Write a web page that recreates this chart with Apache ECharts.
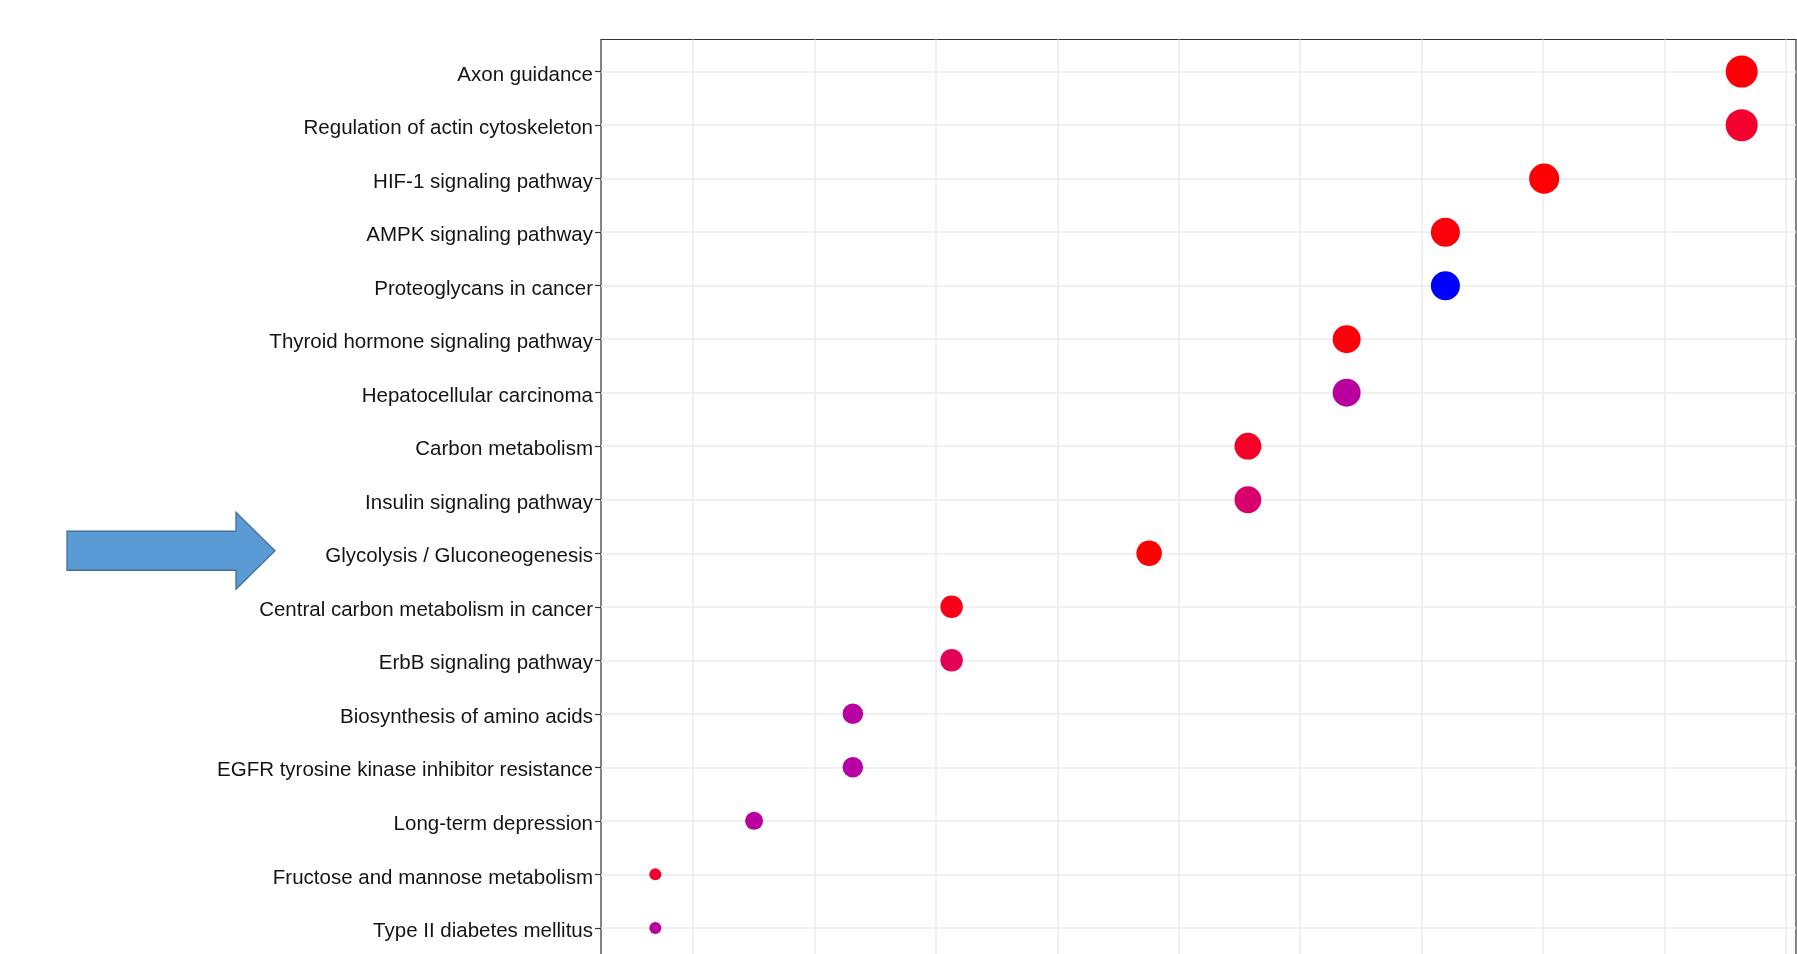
<!DOCTYPE html>
<html>
<head>
<meta charset="utf-8">
<title>KEGG enrichment dot plot</title>
<script src="https://cdn.jsdelivr.net/npm/echarts@6/dist/echarts.min.js"></script>
<style>
  html, body { margin: 0; padding: 0; background: #ffffff; }
  #chart { width: 1797px; height: 954px; }
</style>
</head>
<body>
<div id="chart"></div>
<script>
// Enriched KEGG pathways, listed top to bottom
const pathways = [
  'Axon guidance',
  'Regulation of actin cytoskeleton',
  'HIF-1 signaling pathway',
  'AMPK signaling pathway',
  'Proteoglycans in cancer',
  'Thyroid hormone signaling pathway',
  'Hepatocellular carcinoma',
  'Carbon metabolism',
  'Insulin signaling pathway',
  'Glycolysis / Gluconeogenesis',
  'Central carbon metabolism in cancer',
  'ErbB signaling pathway',
  'Biosynthesis of amino acids',
  'EGFR tyrosine kinase inhibitor resistance',
  'Long-term depression',
  'Fructose and mannose metabolism',
  'Type II diabetes mellitus'
];

// Genes hit in each pathway
const geneCount = [18, 18, 16, 15, 15, 14, 14, 13, 13, 12, 10, 10, 9, 9, 8, 7, 7];

// Size of the input gene list (GeneRatio = count / total)
const geneTotal = 123;

// Adjusted p-values (colour)
const pAdjust = [0.0021, 0.0069, 0.0017, 0.0026, 0.0486, 0.0027, 0.0296, 0.0059,
                 0.0192, 0.0012, 0.0045, 0.0145, 0.0298, 0.0306, 0.0301, 0.0074, 0.0294];

// Vertical grid positions on the GeneRatio axis
const ratioTicks = [0.06, 0.07, 0.08, 0.09, 0.10, 0.11, 0.12, 0.13, 0.14, 0.15];

const rowIndex = pathways.map((_, i) => i);
const points = pathways.map((name, i) => [geneCount[i] / geneTotal, i, pAdjust[i], geneCount[i], name]);

const ratios = points.map(p => p[0]);
const rMin = Math.min(...ratios), rMax = Math.max(...ratios);
const pad = (rMax - rMin) * 0.05;
const cMin = Math.min(...geneCount), cMax = Math.max(...geneCount);

// red -> blue gradient sampled in Lab space
const gradient = ['#FF0000', '#F40031', '#E80050', '#DA006C', '#CA0089',
                  '#B500A5', '#9A00C3', '#7300E0', '#0000FF'];

const chart = echarts.init(document.getElementById('chart'), null, { renderer: 'canvas' });

const option = {
  animation: false,
  backgroundColor: '#ffffff',
  grid: {
    left: 601,
    right: 1,
    top: 39.5,
    bottom: -6,
    show: true,
    borderColor: '#333333',
    borderWidth: 1.2,
    containLabel: false,
    outerBoundsMode: 'none'
  },
  visualMap: {
    show: false,
    type: 'continuous',
    seriesIndex: 0,
    dimension: 2,
    min: Math.min(...pAdjust),
    max: Math.max(...pAdjust),
    inRange: { color: gradient }
  },
  xAxis: {
    type: 'value',
    min: rMin - pad,
    max: rMax + pad,
    axisLine: { show: false },
    axisTick: { show: false, customValues: ratioTicks },
    axisLabel: { show: false, customValues: ratioTicks },
    splitLine: { show: true, lineStyle: { color: '#EBEBEB', width: 1.5 } }
  },
  yAxis: {
    type: 'value',
    inverse: true,
    min: -0.6,
    max: 16.6,
    axisLine: { show: false },
    axisTick: {
      show: true,
      length: 6,
      customValues: rowIndex,
      lineStyle: { color: '#333333', width: 1.2 }
    },
    axisLabel: {
      customValues: rowIndex,
      margin: 8,
      fontSize: 20.5,
      verticalAlign: 'top',
      lineHeight: 7,
      fontFamily: 'Liberation Sans, Arial, sans-serif',
      color: '#141414',
      formatter: v => pathways[Math.round(v)] || ''
    },
    splitLine: { show: true, lineStyle: { color: '#EBEBEB', width: 1.5 } }
  },
  series: [{
    type: 'scatter',
    data: points,
    symbol: 'circle',
    symbolSize: v => 12 + 20 * Math.sqrt((v[3] - cMin) / (cMax - cMin)),
    itemStyle: { opacity: 1 },
    z: 5
  }]
};

chart.setOption(option);

// Block arrow pointing at the Glycolysis / Gluconeogenesis row
const rowY = chart.convertToPixel({ yAxisIndex: 0 }, pathways.indexOf('Glycolysis / Gluconeogenesis'));
const cy = rowY - 2.5;
chart.setOption({
  graphic: [{
    type: 'polygon',
    shape: {
      points: [
        [67, cy - 19.5], [236, cy - 19.5], [236, cy - 38.5], [275, cy],
        [236, cy + 38.5], [236, cy + 19.5], [67, cy + 19.5]
      ]
    },
    style: { fill: '#5B9BD5', stroke: '#41719C', lineWidth: 1.3 },
    z: 10
  }]
});
</script>
</body>
</html>
